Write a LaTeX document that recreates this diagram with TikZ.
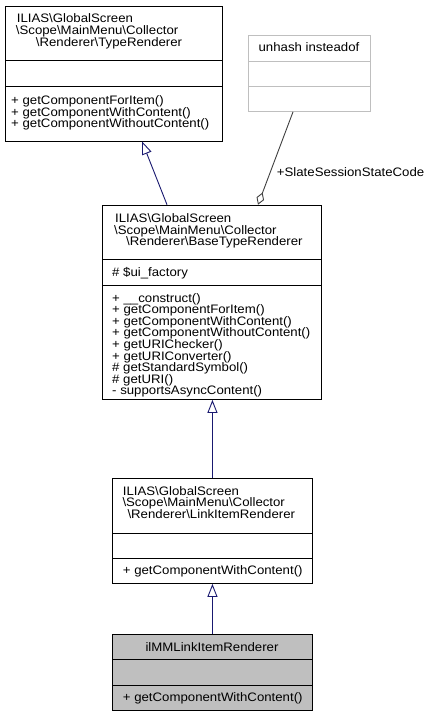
\documentclass[tikz,border=0pt]{standalone}
\usepackage{fontspec}
\setmainfont{Liberation Sans}[FakeStretch=1.075]
\usetikzlibrary{arrows.meta}
\definecolor{edgeblue}{HTML}{191970}
\definecolor{aggray}{HTML}{404040}
\definecolor{boxgray}{HTML}{BFBFBF}
\newcommand\bsl{\textbackslash}
\begin{document}
\begin{tikzpicture}[x=1pt,y=-1pt,
  box/.style={draw=black,line width=0.9pt,anchor=north west,inner sep=0pt},
  sepline/.style={line width=0.9pt},
  txt/.style={inner sep=0pt,anchor=base west,font=\fontsize{12.3}{11.67}\selectfont},
  ctxt/.style={txt,anchor=base},
  inherit/.style={draw=edgeblue,line width=0.9pt,-{Triangle[open,length=13pt,width=10pt,fill=white]}},
  agg/.style={draw=aggray,line width=0.9pt,{Diamond[open,length=13pt,width=8pt,fill=white]}-}]
\useasboundingbox (0,0) rectangle (429,716);
\fill[white] (0,0) rectangle (429,716);

% Box 1: TypeRenderer
\node[box,minimum width=217pt,minimum height=134.8pt] (b1) at (5,5.7) {};
\draw[sepline] (b1.west |- 0,60.7) -- (b1.east |- 0,60.7);
\draw[sepline] (b1.west |- 0,86.7) -- (b1.east |- 0,86.7);
\node[txt] (b1t1) at (16.7,22.7) {ILIAS\bsl GlobalScreen};
\node[txt] (b1t2) at (15.7,34.4) {\bsl Scope\bsl MainMenu\bsl Collector};
\node[txt] (b1t3) at (35.7,46) {\bsl Renderer\bsl TypeRenderer};
\node[txt] (b1m1) at (11,104.4) {+ getComponentForItem()};
\node[txt] (b1m2) at (11,116) {+ getComponentWithContent()};
\node[txt] (b1m3) at (11,127.7) {+ getComponentWithoutContent()};

% unhash insteadof
\node[box,draw=boxgray,minimum width=122pt,minimum height=76pt] (uh) at (248,35) {};
\draw[sepline,draw=boxgray] (uh.west |- 0,61) -- (uh.east |- 0,61);
\draw[sepline,draw=boxgray] (uh.west |- 0,86) -- (uh.east |- 0,86);
\node[ctxt] (uht) at (309,51) {unhash insteadof};

% Box 2: BaseTypeRenderer
\node[box,minimum width=218.7pt,minimum height=194.3pt] (b2) at (102,204.7) {};
\draw[sepline] (b2.west |- 0,259.5) -- (b2.east |- 0,259.5);
\draw[sepline] (b2.west |- 0,285) -- (b2.east |- 0,285);
\node[txt] (b2t1) at (115,222.5) {ILIAS\bsl GlobalScreen};
\node[txt] (b2t2) at (114,234.2) {\bsl Scope\bsl MainMenu\bsl Collector};
\node[txt] (b2t3) at (126,245.9) {\bsl Renderer\bsl BaseTypeRenderer};
\node[txt] (b2a1) at (112,276.5) {\# \$ui\_factory};
\node[txt] (b2m1) at (112,302) {+ \_\_construct()};
\node[txt] (b2m2) at (112,313.6) {+ getComponentForItem()};
\node[txt] (b2m3) at (112,325.2) {+ getComponentWithContent()};
\node[txt] (b2m4) at (112,336.8) {+ getComponentWithoutContent()};
\node[txt] (b2m5) at (112,348.4) {+ getURIChecker()};
\node[txt] (b2m6) at (112,360) {+ getURIConverter()};
\node[txt] (b2m7) at (112,371.6) {\# getStandardSymbol()};
\node[txt] (b2m8) at (112,383.2) {\# getURI()};
\node[txt] (b2m9) at (112,394.8) {- supportsAsyncContent()};

% Box 3: LinkItemRenderer
\node[box,minimum width=200pt,minimum height=105pt] (b3) at (112,478) {};
\draw[sepline] (b3.west |- 0,533) -- (b3.east |- 0,533);
\draw[sepline] (b3.west |- 0,558) -- (b3.east |- 0,558);
\node[txt] (b3t1) at (122.7,495) {ILIAS\bsl GlobalScreen};
\node[txt] (b3t2) at (122.3,506.7) {\bsl Scope\bsl MainMenu\bsl Collector};
\node[txt] (b3t3) at (127.3,518.4) {\bsl Renderer\bsl LinkItemRenderer};
\node[txt] (b3m1) at (122.7,574) {+ getComponentWithContent()};

% Box 4: ilMMLinkItemRenderer
\node[box,fill=boxgray,minimum width=200pt,minimum height=76pt] (b4) at (112,634) {};
\draw[sepline] (b4.west |- 0,659) -- (b4.east |- 0,659);
\draw[sepline] (b4.west |- 0,685) -- (b4.east |- 0,685);
\node[ctxt] (b4t1) at (212,651) {ilMMLinkItemRenderer};
\node[txt] (b4m1) at (122.7,701) {+ getComponentWithContent()};

% connectors
\draw[inherit] ([xshift=65pt]b2.north west) -- ([xshift=137pt]b1.south west);
\draw[inherit] (b3.north) -- (b3.north |- b2.south);
\draw[inherit] (b4.north) -- (b3.south);
\draw[agg] ([xshift=156pt]b2.north west) -- ([xshift=45pt]uh.south west);
\node[txt] (lbl) at (276.7,176.5) {+SlateSessionStateCode};
\end{tikzpicture}
\end{document}
